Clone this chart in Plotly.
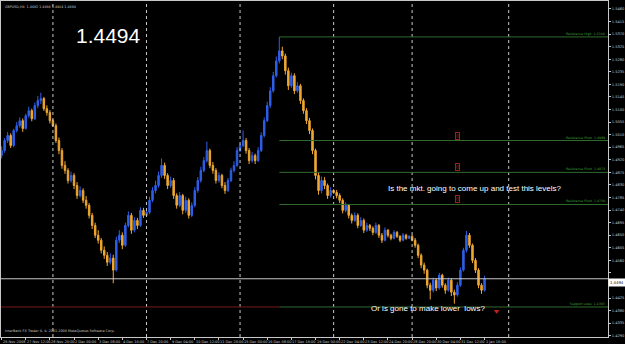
import plotly.graph_objects as go

# ---------------- data (GBPUSD H4, 26 Nov 2008 - 2 Jan 2009) ----------------
opens = [1.4935,1.4953,1.4989,1.5007,1.4971,1.5025,1.5042,1.5060,1.5032,1.5078,
         1.5096,1.5067,1.5114,1.5132,1.5139,1.5103,1.5089,1.5060,1.5042,1.4989,
         1.4953,1.4900,1.4882,1.4846,1.4864,1.4828,1.4792,1.4810,1.4775,1.4757,
         1.4721,1.4685,1.4650,1.4632,1.4596,1.4578,1.4553,1.4568,1.4525,1.4632,
         1.4650,1.4614,1.4685,1.4721,1.4668,1.4703,1.4685,1.4739,1.4721,1.4732,
         1.4775,1.4810,1.4828,1.4864,1.4900,1.4864,1.4828,1.4846,1.4792,1.4757,
         1.4792,1.4739,1.4775,1.4721,1.4757,1.4810,1.4846,1.4882,1.4917,1.4953,
         1.4900,1.4882,1.4846,1.4864,1.4828,1.4810,1.4846,1.4882,1.4900,1.4953,
         1.4971,1.4989,1.4953,1.4917,1.4935,1.4917,1.4953,1.5007,1.5060,1.5114,
         1.5167,1.5221,1.5274,1.5310,1.5292,1.5239,1.5185,1.5221,1.5167,1.5185,
         1.5132,1.5096,1.5060,1.5025,1.4953,1.4864,1.4810,1.4846,1.4828,1.4792,
         1.4810,1.4803,1.4792,1.4775,1.4739,1.4757,1.4721,1.4703,1.4721,1.4685,
         1.4703,1.4668,1.4685,1.4675,1.4660,1.4685,1.4650,1.4632,1.4668,1.4650,
         1.4639,1.4660,1.4646,1.4632,1.4650,1.4639,1.4646,1.4632,1.4614,1.4578,
         1.4543,1.4525,1.4471,1.4453,1.4489,1.4461,1.4507,1.4471,1.4453,1.4489,
         1.4446,1.4436,1.4471,1.4525,1.4596,1.4650,1.4614,1.4560,1.4525,1.4471,
         1.4453]
highs = [1.4968,1.4998,1.5020,1.5015,1.5031,1.5055,1.5072,1.5068,1.5085,1.5110,
         1.5103,1.5125,1.5148,1.5160,1.5145,1.5115,1.5098,1.5066,1.5050,1.5000,
         1.4962,1.4915,1.4890,1.4878,1.4872,1.4840,1.4825,1.4818,1.4790,1.4765,
         1.4730,1.4695,1.4668,1.4640,1.4610,1.4590,1.4585,1.4580,1.4645,1.4668,
         1.4660,1.4695,1.4735,1.4730,1.4715,1.4712,1.4750,1.4748,1.4738,1.4788,
         1.4822,1.4845,1.4878,1.4925,1.4910,1.4872,1.4860,1.4855,1.4800,1.4805,
         1.4798,1.4788,1.4782,1.4768,1.4822,1.4858,1.4895,1.4930,1.4985,1.4960,
         1.4912,1.4890,1.4875,1.4870,1.4840,1.4855,1.4892,1.4915,1.4965,1.4978,
         1.5025,1.4998,1.4962,1.4948,1.4942,1.4965,1.5018,1.5072,1.5128,1.5180,
         1.5235,1.5290,1.5360,1.5325,1.5300,1.5250,1.5232,1.5230,1.5198,1.5192,
         1.5140,1.5105,1.5070,1.5032,1.4960,1.4875,1.4860,1.4858,1.4835,1.4822,
         1.4815,1.4812,1.4800,1.4782,1.4768,1.4762,1.4728,1.4732,1.4728,1.4715,
         1.4710,1.4695,1.4690,1.4682,1.4695,1.4690,1.4658,1.4678,1.4672,1.4655,
         1.4668,1.4665,1.4650,1.4658,1.4655,1.4650,1.4652,1.4640,1.4620,1.4585,
         1.4552,1.4530,1.4480,1.4498,1.4495,1.4515,1.4512,1.4478,1.4498,1.4495,
         1.4455,1.4482,1.4535,1.4605,1.4665,1.4658,1.4620,1.4568,1.4532,1.4478,
         1.4505]
lows = [1.4925,1.4945,1.4980,1.4962,1.4965,1.5018,1.5035,1.5020,1.5028,1.5070,
        1.5058,1.5062,1.5105,1.5120,1.5095,1.5078,1.5050,1.5038,1.4980,1.4940,
        1.4888,1.4870,1.4835,1.4838,1.4815,1.4780,1.4785,1.4765,1.4745,1.4710,
        1.4672,1.4640,1.4620,1.4585,1.4565,1.4540,1.4545,1.4478,1.4520,1.4622,
        1.4600,1.4608,1.4678,1.4655,1.4660,1.4672,1.4680,1.4712,1.4718,1.4725,
        1.4768,1.4800,1.4820,1.4855,1.4852,1.4815,1.4820,1.4780,1.4745,1.4750,
        1.4725,1.4730,1.4710,1.4715,1.4750,1.4802,1.4838,1.4875,1.4910,1.4890,
        1.4870,1.4835,1.4838,1.4818,1.4798,1.4805,1.4840,1.4875,1.4895,1.4948,
        1.4965,1.4942,1.4905,1.4910,1.4905,1.4912,1.4948,1.5000,1.5055,1.5105,
        1.5160,1.5215,1.5265,1.5280,1.5225,1.5170,1.5178,1.5155,1.5160,1.5120,
        1.5085,1.5048,1.5012,1.4940,1.4850,1.4795,1.4800,1.4815,1.4780,1.4785,
        1.4798,1.4782,1.4765,1.4728,1.4732,1.4710,1.4692,1.4698,1.4675,1.4680,
        1.4658,1.4662,1.4665,1.4650,1.4655,1.4640,1.4622,1.4628,1.4642,1.4632,
        1.4635,1.4640,1.4625,1.4628,1.4634,1.4636,1.4628,1.4605,1.4568,1.4532,
        1.4512,1.4460,1.4420,1.4445,1.4450,1.4455,1.4462,1.4440,1.4448,1.4432,
        1.4405,1.4430,1.4465,1.4520,1.4588,1.4605,1.4550,1.4515,1.4460,1.4440,
        1.4448]
closes = [1.4953,1.4989,1.5007,1.4971,1.5025,1.5042,1.5060,1.5032,1.5078,1.5096,
          1.5067,1.5114,1.5132,1.5139,1.5103,1.5089,1.5060,1.5042,1.4989,1.4953,
          1.4900,1.4882,1.4846,1.4864,1.4828,1.4792,1.4810,1.4775,1.4757,1.4721,
          1.4685,1.4650,1.4632,1.4596,1.4578,1.4553,1.4568,1.4525,1.4632,1.4650,
          1.4614,1.4685,1.4721,1.4668,1.4703,1.4685,1.4739,1.4721,1.4732,1.4775,
          1.4810,1.4828,1.4864,1.4900,1.4864,1.4828,1.4846,1.4792,1.4757,1.4792,
          1.4739,1.4775,1.4721,1.4757,1.4810,1.4846,1.4882,1.4917,1.4953,1.4900,
          1.4882,1.4846,1.4864,1.4828,1.4810,1.4846,1.4882,1.4900,1.4953,1.4971,
          1.4989,1.4953,1.4917,1.4935,1.4917,1.4953,1.5007,1.5060,1.5114,1.5167,
          1.5221,1.5274,1.5310,1.5292,1.5239,1.5185,1.5221,1.5167,1.5185,1.5132,
          1.5096,1.5060,1.5025,1.4953,1.4864,1.4810,1.4846,1.4828,1.4792,1.4810,
          1.4803,1.4792,1.4775,1.4739,1.4757,1.4721,1.4703,1.4721,1.4685,1.4703,
          1.4668,1.4685,1.4675,1.4660,1.4685,1.4650,1.4632,1.4668,1.4650,1.4639,
          1.4660,1.4646,1.4632,1.4650,1.4639,1.4646,1.4632,1.4614,1.4578,1.4543,
          1.4525,1.4471,1.4453,1.4489,1.4461,1.4507,1.4471,1.4453,1.4489,1.4446,
          1.4436,1.4471,1.4525,1.4596,1.4650,1.4614,1.4560,1.4525,1.4471,1.4453,
          1.4494]
bars = list(range(len(closes)))

time_labels = ["26 Nov 2008", "27 Nov 12:00", "28 Nov 20:00", "2 Dec 00:00", "3 Dec 08:00",
               "4 Dec 16:00", "7 Dec 20:00", "9 Dec 04:00", "10 Dec 12:00", "11 Dec 20:00",
               "15 Dec 00:00", "16 Dec 08:00", "17 Dec 16:00", "19 Dec 00:00", "22 Dec 04:00",
               "23 Dec 12:00", "24 Dec 20:00", "28 Dec 20:00", "30 Dec 04:00", "31 Dec 12:00",
               "1 Jan 16:00"]
time_label_bars = [0, 8, 16, 24, 32, 40, 48, 56, 64, 72, 80, 88, 96, 104, 112, 120,
                   128, 136, 144, 152, 160]
week_separators = [17, 48, 79, 110, 136, 168]

price_ticks = [1.4290, 1.4335, 1.4380, 1.4425, 1.4470, 1.4515, 1.4560, 1.4605, 1.4650,
               1.4695, 1.4740, 1.4785, 1.4830, 1.4875, 1.4920, 1.4965, 1.5010, 1.5055,
               1.5100, 1.5145, 1.5190, 1.5235, 1.5280, 1.5325, 1.5370, 1.5415, 1.5460]

level_names = ["Resistance High", "Resistance Pivot", "Resistance Pivot", "Resistance Pivot"]
level_values = [1.5360, 1.4989, 1.4875, 1.4760]
level_start_bar = 92
support_name = "Support Lows"
support_value = 1.4393
current_price = 1.4494
symbol_info = "GBPUSD,H4  1.4482 1.4494 1.4464 1.4494"

# ---------------- figure ----------------
UP = "#2f5fe8"
DOWN = "#f0a830"
GREEN = "#2f6b2f"
GREY = "#c8c8c8"

fig = go.Figure()
fig.add_trace(go.Candlestick(
    x=bars, open=opens, high=highs, low=lows, close=closes,
    increasing=dict(line=dict(color=UP, width=1), fillcolor=UP),
    decreasing=dict(line=dict(color=DOWN, width=1), fillcolor=DOWN),
    whiskerwidth=0, hoverinfo="skip",
))

x_min, x_max = -0.2, 200.9
y_min, y_max = 1.42855, 1.54886

shapes = []
for b in week_separators:
    shapes.append(dict(type="line", xref="x", yref="paper", x0=b, x1=b, y0=0, y1=1,
                       line=dict(color=GREY, width=1, dash="dot")))
for v in level_values:
    shapes.append(dict(type="line", xref="x", yref="y", x0=level_start_bar, x1=x_max,
                       y0=v, y1=v, line=dict(color=GREEN, width=1)))
shapes.append(dict(type="line", xref="x", yref="y", x0=x_min, x1=level_start_bar,
                   y0=support_value, y1=support_value, line=dict(color="#7a1a1a", width=1)))
shapes.append(dict(type="line", xref="x", yref="y", x0=level_start_bar, x1=x_max,
                   y0=support_value, y1=support_value, line=dict(color=GREEN, width=1)))
shapes.append(dict(type="line", xref="x", yref="y", x0=x_min, x1=x_max,
                   y0=current_price, y1=current_price, line=dict(color=GREY, width=1)))

annotations = []
for name, v in zip(level_names + [support_name], level_values + [support_value]):
    annotations.append(dict(x=1, xref="paper", y=v, yref="y", xanchor="right", yanchor="bottom",
                            text=f"{name}  {v:.4f}", showarrow=False, xshift=-1, yshift=-1,
                            font=dict(size=3.2, color="#3fa03f", family="DejaVu Sans")))
# small red markers on the levels
for v in level_values[1:]:
    annotations.append(dict(x=151, xref="x", y=v, yref="y", yanchor="bottom", yshift=1,
                            text="0", showarrow=False, bordercolor="#a02020", borderwidth=1,
                            borderpad=0, font=dict(size=5, color="#b02020", family="DejaVu Sans")))
for lbl, b in zip(time_labels, time_label_bars):
    annotations.append(dict(x=b, xref="x", y=0, yref="paper", xanchor="left", yanchor="top",
                            text=lbl, showarrow=False, yshift=-1, xshift=-1,
                            font=dict(size=3.5, color=GREY, family="DejaVu Sans")))
annotations += [
    dict(x=0.003, y=1, xref="paper", yref="paper", xanchor="left", yanchor="top",
         text=symbol_info, showarrow=False, yshift=-2,
         font=dict(size=3.3, color=GREY, family="DejaVu Sans")),
    dict(x=108 / 610, y=1 - 35 / 337, xref="paper", yref="paper", xanchor="center",
         yanchor="middle", text=f"{current_price:.4f}", showarrow=False,
         font=dict(size=21, color="white", family="Liberation Sans")),
    dict(x=387 / 610, y=1 - 188 / 337, xref="paper", yref="paper", xanchor="left",
         text="Is the mkt. going to come up and test this levels?", showarrow=False,
         font=dict(size=8, color="white", family="Liberation Sans")),
    dict(x=370 / 610, y=1 - 315 / 337, xref="paper", yref="paper", xanchor="left",
         text="Or is gone to make lower  lows?", showarrow=False,
         font=dict(size=8, color="white", family="Liberation Sans")),
    dict(x=0.003, y=0, xref="paper", yref="paper", xanchor="left", yanchor="bottom",
         text="InterBank FX Trader 4, © 2001-2008 MetaQuotes Software Corp.", showarrow=False,
         yshift=2, font=dict(size=3.4, color=GREY, family="DejaVu Sans")),
    dict(x=1, xref="paper", y=current_price, yref="y", xanchor="left", yanchor="middle",
         text=f"{current_price:.4f}", showarrow=False, bgcolor="white", xshift=0, yshift=-4,
         font=dict(size=3.8, color="black", family="DejaVu Sans")),
]

fig.add_trace(go.Scatter(x=[164], y=[1.4378], mode="markers",
                         marker=dict(symbol="triangle-down", size=5, color="#c02020"),
                         hoverinfo="skip"))

tick_text = ["" if abs(t - current_price) < 0.0030 else f"{t:.4f}" for t in price_ticks]

fig.update_layout(
    width=625, height=344, margin=dict(l=0, r=15, t=0, b=7),
    paper_bgcolor="black", plot_bgcolor="black", showlegend=False,
    shapes=shapes, annotations=annotations,
    xaxis=dict(range=[x_min, x_max], showgrid=False, zeroline=False, showticklabels=False,
               tickvals=time_label_bars, ticks="outside", ticklen=2, tickcolor=GREY,
               showline=True, linecolor=GREY, mirror=True, rangeslider=dict(visible=False)),
    yaxis=dict(range=[y_min, y_max], side="right", showgrid=False, zeroline=False,
               tickvals=price_ticks, ticktext=tick_text,
               ticks="outside", ticklen=2, tickcolor=GREY,
               tickfont=dict(size=3.6, color=GREY, family="DejaVu Sans"),
               showline=True, linecolor=GREY, mirror=True),
)

fig.write_html("out.html")
